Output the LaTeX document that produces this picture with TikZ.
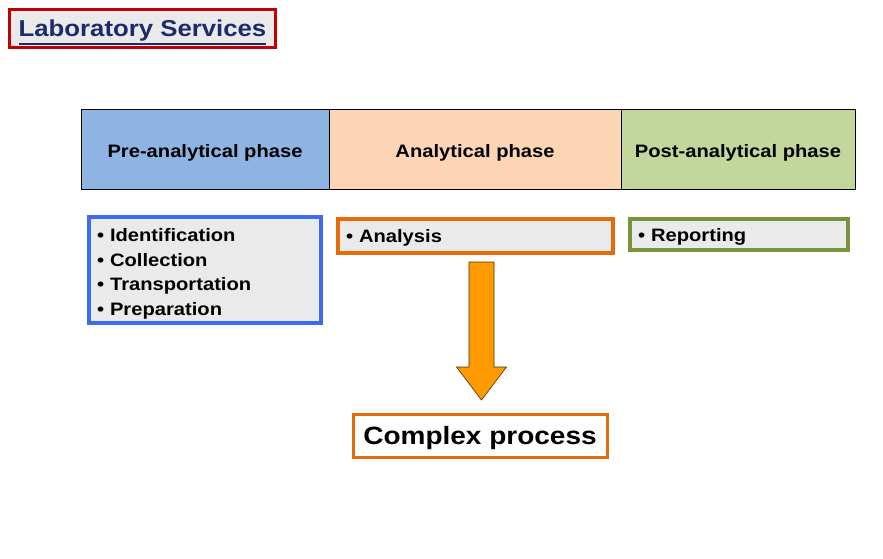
\documentclass[tikz,border=0pt]{standalone}
\usepackage{fontspec}
\setmainfont{Liberation Sans}[FakeStretch=1.12]
\usepackage{tikz}
\definecolor{titlered}{HTML}{C00000}
\definecolor{titlenavy}{HTML}{1B2B6B}
\definecolor{boxgray}{HTML}{EAEAEA}
\definecolor{preblue}{HTML}{8EB4E3}
\definecolor{anapeach}{HTML}{FCD5B5}
\definecolor{postgreen}{HTML}{C3D69B}
\definecolor{listblue}{HTML}{3D6BF2}
\definecolor{listorange}{HTML}{E46C0A}
\definecolor{listgreen}{HTML}{77933C}
\definecolor{arrowfill}{HTML}{FF9900}
\newcommand\thickul[1]{\raisebox{0pt}[\height][0pt]{\vtop{\hbox{#1}\kern1.8pt\hrule height 1.8pt}}}
\tikzstyle{phase} = [draw=black,line width=0.8pt,minimum height=80pt,inner sep=0pt,text height=17pt,text depth=0pt,font=\bfseries\fontsize{18}{20}\selectfont]
\tikzstyle{items} = [fill=boxgray,line width=4pt,inner xsep=8pt,align=left,font=\bfseries\fontsize{18}{24.7}\selectfont]
\tikzstyle{bigarrow} = [draw=black!70!arrowfill,fill=arrowfill,line width=0.6pt,line join=miter]

\begin{document}
\begin{tikzpicture}[x=1pt,y=-1pt]
      \useasboundingbox (0,0) rectangle (883,558);

      \node[draw=titlered,fill=boxgray,line width=3pt,minimum width=266pt,minimum height=38pt,text=titlenavy,font=\bfseries\fontsize{23}{26}\selectfont] (title) at (142.5,28.5) {\thickul{Laboratory Services}};

      \node[phase,fill=preblue,minimum width=248pt] (pre) at (205,149) {Pre-analytical phase};
      \node[phase,fill=anapeach,minimum width=292pt] (ana) at (475,149) {Analytical phase};
      \node[phase,fill=postgreen,minimum width=234pt] (post) at (738,149) {Post-analytical phase};

      \node[items,draw=listblue,minimum width=232pt,minimum height=106pt,text width=216pt,inner ysep=0pt] (prelist) at (205,270) {\rule{0pt}{21pt}\textbullet\ Identification\\ \textbullet\ Collection\\ \textbullet\ Transportation\\ \textbullet\ Preparation};
      \node[items,draw=listorange,minimum width=275pt,minimum height=34pt,text width=259pt,text depth=0pt] (analist) at (475.5,236) {\textbullet\ Analysis};
      \node[items,draw=listgreen,minimum width=218pt,minimum height=31pt,text width=202pt,text depth=0pt] (postlist) at (739,234.5) {\textbullet\ Reporting};

      \node[draw=listorange,fill=white,line width=3pt,minimum width=254pt,minimum height=43pt,text depth=0pt,font=\bfseries\fontsize{25}{28}\selectfont] (complex) at (480,435.5) {Complex process};

      \coordinate (atop) at (481.5,262);
      \coordinate (atip) at (481.5,400);
      \draw[bigarrow] (atop) ++(-12.5,0) -- ++(0,105) -- ++(-12.5,0) -- (atip) -- ++(25,-33) -- ++(-12.5,0) -- ++(0,-105) -- cycle;
\end{tikzpicture}
\end{document}
